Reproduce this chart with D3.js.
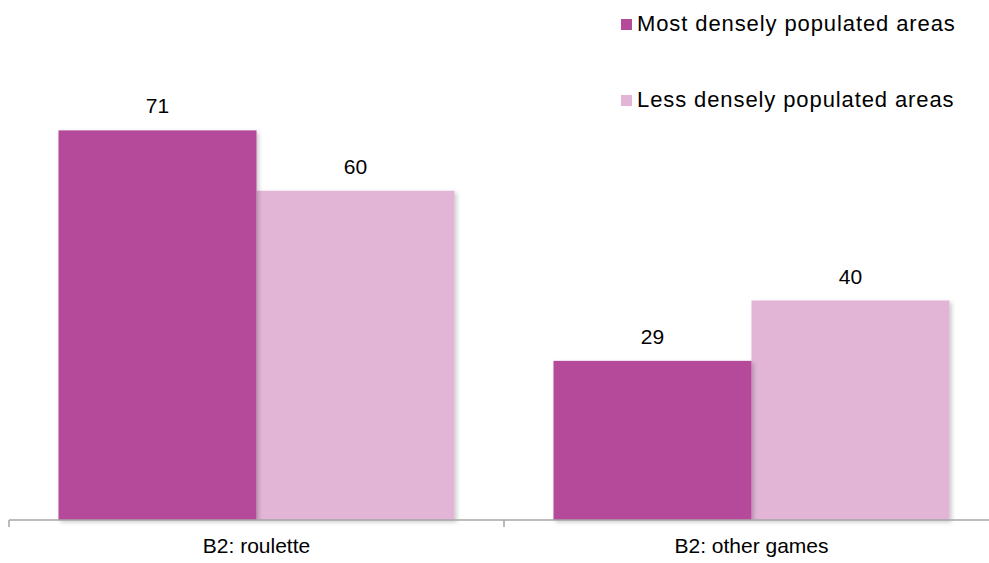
<!DOCTYPE html>
<html><head><meta charset="utf-8">
<script src="https://cdn.jsdelivr.net/npm/d3@7"></script>
<style>body{margin:0;background:#fff}svg{display:block}text{font-family:"Liberation Sans",Arial,sans-serif}</style>
</head><body>
<svg id="c" width="989" height="563"></svg>
<script>
const categories = ["B2: roulette", "B2: other games"];
const seriesNames = ["Most densely populated areas", "Less densely populated areas"];
const mostDense = [71, 29];
const lessDense = [60, 40];
const colors = ["#B5499A", "#E2B5D7"];

const svg = d3.select("#c");
const x0 = d3.scaleBand().domain(categories).range([9, 999]).paddingInner(0).paddingOuter(0);
const x1 = d3.scaleBand().domain(seriesNames).range([0, x0.bandwidth()]).paddingOuter(0.25).paddingInner(0);
const y = d3.scaleLinear().domain([0, 80]).range([520, 81]);

const defs = svg.append("defs");
const f = defs.append("filter").attr("id","sh").attr("x","-10%").attr("y","-10%").attr("width","130%").attr("height","130%");
f.append("feDropShadow").attr("dx",2).attr("dy",2).attr("stdDeviation",2).attr("flood-color","#000").attr("flood-opacity",0.22);

const data = categories.map((c,i)=>({cat:c, vals:[{s:seriesNames[0],v:mostDense[i],c:colors[0]},{s:seriesNames[1],v:lessDense[i],c:colors[1]}]}));

const g = svg.append("g");
const grp = g.selectAll("g.grp").data(data).join("g").attr("transform", d=>`translate(${x0(d.cat)},0)`);
grp.selectAll("rect").data(d=>d.vals.slice().reverse()).join("rect")
  .attr("x", d=>x1(d.s)).attr("width", x1.bandwidth())
  .attr("y", d=>y(d.v)).attr("height", d=>y(0)-y(d.v))
  .attr("fill", d=>d.c).attr("filter","url(#sh)");
grp.selectAll("text.val").data(d=>d.vals).join("text").attr("class","val")
  .attr("x", d=>x1(d.s)+x1.bandwidth()/2).attr("y", d=>y(d.v)-17)
  .attr("text-anchor","middle").attr("font-size",21).attr("fill","#000").text(d=>d.v);

// axis
const ax = g.append("g").attr("transform","translate(0,520)");
ax.append("line").attr("x1",9).attr("x2",999).attr("y1",0).attr("y2",0).attr("stroke","#A6A6A6").attr("stroke-width",1.5);
const ticks = [x0.range()[0], ...categories.map(c=>x0(c)+x0.bandwidth())];
ax.selectAll("line.t").data(ticks).join("line").attr("class","t")
  .attr("x1",d=>d).attr("x2",d=>d).attr("y1",0).attr("y2",7).attr("stroke","#A6A6A6").attr("stroke-width",1.5);
ax.selectAll("text.cat").data(categories).join("text").attr("class","cat")
  .attr("x", d=>x0(d)+x0.bandwidth()/2).attr("y", 33)
  .attr("text-anchor","middle").attr("font-size",21).attr("fill","#000").text(d=>d);

// legend
const lg = svg.append("g");
const ly = [31, 107];
seriesNames.forEach((s,i)=>{
  lg.append("rect").attr("x",621).attr("y",ly[i]-12).attr("width",11).attr("height",11).attr("fill",colors[i]);
  lg.append("text").attr("x",637).attr("y",ly[i]).attr("font-size",22).attr("letter-spacing",0.9).attr("fill","#000").text(s);
});
</script>
</body></html>
